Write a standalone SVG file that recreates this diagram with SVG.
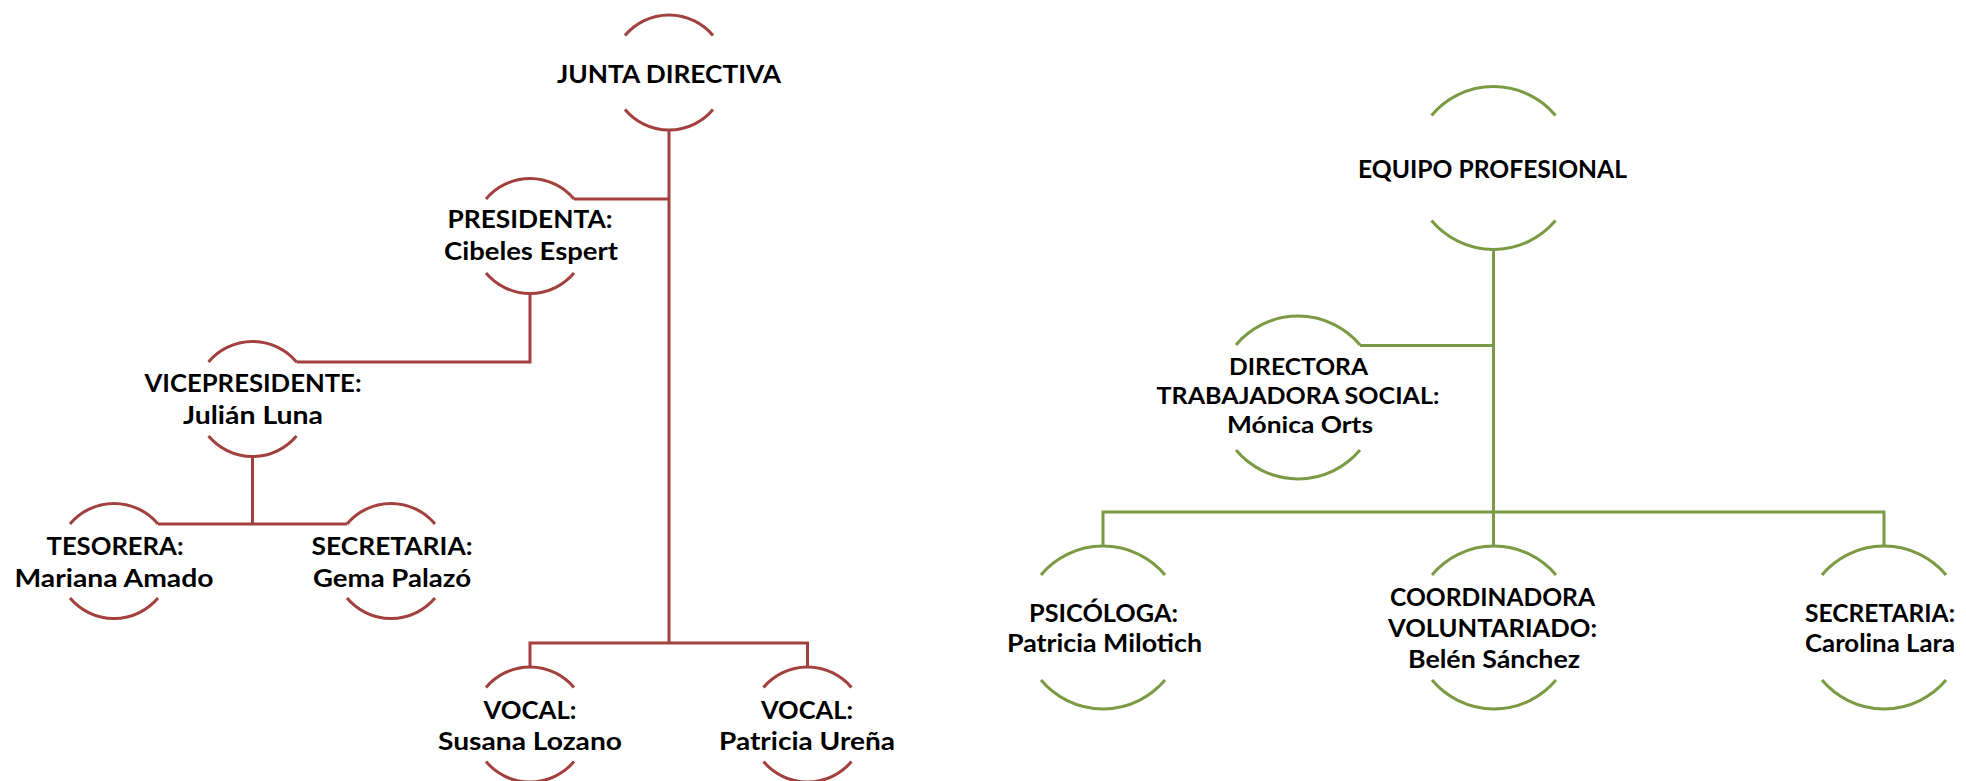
<svg xmlns="http://www.w3.org/2000/svg" width="1966" height="781" viewBox="0 0 1966 781">
<style>
.r{fill:none;stroke:#A2403E;stroke-width:3}
.g{fill:none;stroke:#7C9A43;stroke-width:3}
text{font-family:Lato,"Liberation Sans",sans-serif;font-weight:700;font-size:25px;fill:#000;text-anchor:middle}
.s{font-size:22px}
</style>
<defs>
<path id="rc" d="M-44,-37 A57.5,57.5 0 0 1 44,-37 M-44,37 A57.5,57.5 0 0 0 44,37"/>
<path id="gc" d="M-62,-52.5 A81,81 0 0 1 62,-52.5 M-62,52.5 A81,81 0 0 0 62,52.5"/>
</defs>
<g id="connectors">
<path class="r" d="M669,130 V643 M574,199 H669 M530,293.5 V362 H296.5 M252.5,456.5 V524 M158,524 H347 M530,667 V643 H807.5 V667"/>
<path class="g" d="M1493.5,248.5 V547 M1360,345.5 H1494 M1103,547 V512 H1884 V547"/>
</g>
<g id="junta"><use href="#rc" class="r" x="669" y="72.5"/><text x="669" y="83" textLength="224" lengthAdjust="spacingAndGlyphs">JUNTA DIRECTIVA</text></g>
<g id="presidenta"><use href="#rc" class="r" x="530" y="236"/><text x="530" y="228" textLength="165" lengthAdjust="spacingAndGlyphs">PRESIDENTA:</text><text x="531" y="260" textLength="174" lengthAdjust="spacingAndGlyphs">Cibeles Espert</text></g>
<g id="vicepresidente"><use href="#rc" class="r" x="252.5" y="399"/><text x="253" y="392" textLength="217" lengthAdjust="spacingAndGlyphs">VICEPRESIDENTE:</text><text x="253" y="424" textLength="140" lengthAdjust="spacingAndGlyphs">Julián Luna</text></g>
<g id="tesorera"><use href="#rc" class="r" x="114" y="561"/><text x="115" y="555" textLength="137" lengthAdjust="spacingAndGlyphs">TESORERA:</text><text x="114" y="587" textLength="199" lengthAdjust="spacingAndGlyphs">Mariana Amado</text></g>
<g id="secretaria1"><use href="#rc" class="r" x="391" y="561"/><text x="392" y="555" textLength="161" lengthAdjust="spacingAndGlyphs">SECRETARIA:</text><text x="392" y="587" textLength="158" lengthAdjust="spacingAndGlyphs">Gema Palazó</text></g>
<g id="vocal1"><use href="#rc" class="r" x="530" y="724.5"/><text x="530" y="719" textLength="93" lengthAdjust="spacingAndGlyphs">VOCAL:</text><text x="530" y="750" textLength="184" lengthAdjust="spacingAndGlyphs">Susana Lozano</text></g>
<g id="vocal2"><use href="#rc" class="r" x="807.5" y="724.5"/><text x="807" y="719" textLength="92" lengthAdjust="spacingAndGlyphs">VOCAL:</text><text x="807" y="750" textLength="176" lengthAdjust="spacingAndGlyphs">Patricia Ureña</text></g>
<g id="equipo"><use href="#gc" class="g" x="1493.5" y="168"/><text x="1492.5" y="178" textLength="269" lengthAdjust="spacingAndGlyphs">EQUIPO PROFESIONAL</text></g>
<g id="directora"><use href="#gc" class="g" x="1298" y="397.5"/><text class="s" x="1298.5" y="375" textLength="139" lengthAdjust="spacingAndGlyphs">DIRECTORA</text><text class="s" x="1298" y="404" textLength="283" lengthAdjust="spacingAndGlyphs">TRABAJADORA SOCIAL:</text><text class="s" x="1300" y="433" textLength="146" lengthAdjust="spacingAndGlyphs">Mónica Orts</text></g>
<g id="psicologa"><use href="#gc" class="g" x="1103" y="627.5"/><text x="1103.5" y="622" textLength="149" lengthAdjust="spacingAndGlyphs">PSICÓLOGA:</text><text x="1104.5" y="652" textLength="195" lengthAdjust="spacingAndGlyphs">Patricia Milotich</text></g>
<g id="coordinadora"><use href="#gc" class="g" x="1494" y="627.5"/><text x="1492.5" y="606" textLength="205" lengthAdjust="spacingAndGlyphs">COORDINADORA</text><text x="1492.5" y="637" textLength="209" lengthAdjust="spacingAndGlyphs">VOLUNTARIADO:</text><text x="1494" y="668" textLength="172" lengthAdjust="spacingAndGlyphs">Belén Sánchez</text></g>
<g id="secretaria2"><use href="#gc" class="g" x="1884" y="627.5"/><text x="1880" y="622" textLength="150" lengthAdjust="spacingAndGlyphs">SECRETARIA:</text><text x="1880" y="652" textLength="150" lengthAdjust="spacingAndGlyphs">Carolina Lara</text></g>
</svg>
